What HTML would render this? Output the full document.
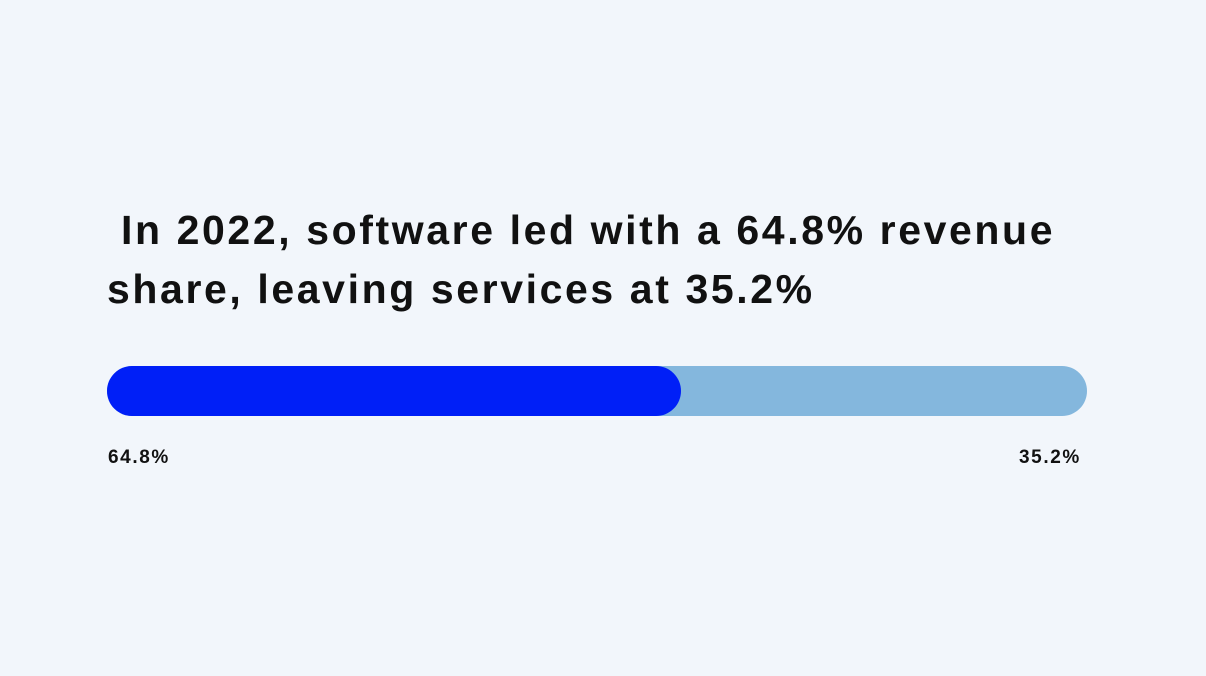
<!DOCTYPE html>
<html>
<head>
<meta charset="utf-8">
<style>
  html,body{margin:0;padding:0;}
  body{width:1206px;height:676px;background:#f2f6fb;position:relative;overflow:hidden;font-family:"Liberation Sans",sans-serif;}
  #title{position:absolute;left:107px;top:201px;width:1060px;font-size:41px;font-weight:bold;line-height:59px;color:#111;letter-spacing:2.6px;margin:0;white-space:nowrap;}
  #chart{position:absolute;left:0;top:0;}
</style>
</head>
<body>
<h1 id="title">&nbsp;In 2022, software led with a 64.8% revenue<br>share, leaving services at 35.2%</h1>
<svg id="chart" width="1206" height="676"></svg>
<script>
const categories = ["Software", "Services"];
const shares = [64.8, 35.2];
const valueLabels = ["64.8%", "35.2%"];

const NS = "http://www.w3.org/2000/svg";
const svg = document.getElementById("chart");
const x0 = 107, x1 = 1087, barY = 366, barH = 50;
function xBlue(v){ return x0 + v * (574 / 64.8); }

const bg = document.createElementNS(NS, "rect");
bg.setAttribute("x", x0); bg.setAttribute("y", barY);
bg.setAttribute("width", x1 - x0); bg.setAttribute("height", barH);
bg.setAttribute("rx", barH/2); bg.setAttribute("fill", "#84b7dd");


svg.appendChild(bg);

const fg = document.createElementNS(NS, "rect");
fg.setAttribute("x", x0); fg.setAttribute("y", barY);
fg.setAttribute("width", xBlue(shares[0]) - x0); fg.setAttribute("height", barH);
fg.setAttribute("rx", barH/2); fg.setAttribute("fill", "#001ff7");


svg.appendChild(fg);

const l1 = document.createElementNS(NS, "text");
l1.setAttribute("x", 108); l1.setAttribute("y", 463);
l1.setAttribute("font-size", "19"); l1.setAttribute("font-weight", "bold");
l1.setAttribute("letter-spacing", "1.6");
l1.setAttribute("font-family", "Liberation Sans, sans-serif"); l1.setAttribute("fill", "#111");
l1.textContent = valueLabels[0];


svg.appendChild(l1);

const l2 = document.createElementNS(NS, "text");
l2.setAttribute("x", 1019); l2.setAttribute("y", 463);
l2.setAttribute("font-size", "19"); l2.setAttribute("font-weight", "bold");
l2.setAttribute("letter-spacing", "1.6");
l2.setAttribute("font-family", "Liberation Sans, sans-serif"); l2.setAttribute("fill", "#111");
l2.textContent = valueLabels[1];


svg.appendChild(l2);
</script>
</body>
</html>
